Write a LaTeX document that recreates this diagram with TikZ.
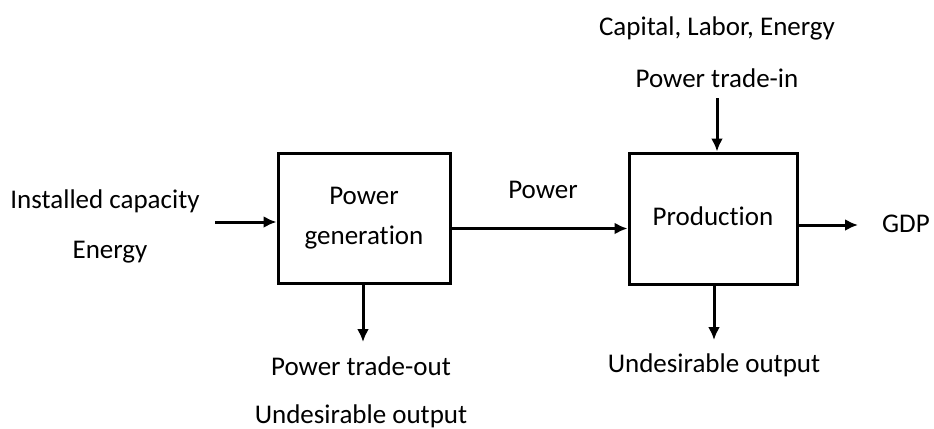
\documentclass[tikz,border=0pt]{standalone}
\usepackage{fontspec}
\setmainfont{Carlito}[Ligatures=NoCommon]
\usetikzlibrary{arrows.meta}
\begin{document}
\begin{tikzpicture}[x=0.5pt,y=-0.5pt,line width=1.5pt,
        >={Latex[length=6.5pt,width=6pt]},
        font=\fontsize{13.5pt}{20pt}\selectfont,
        block/.style={draw,align=center,inner sep=0pt},
        lbl/.style={anchor=base,inner sep=0pt}]
    \useasboundingbox (0,0) rectangle (934,429);
    % the two boxes
    \node[block,minimum width=86pt,minimum height=65pt] (gen) at (364,218) {Power\\generation};
    \node[block,minimum width=84pt,minimum height=65.5pt] (prod) at (713,218.5) {\raisebox{2pt}{Production}};
    % labels
    \node[lbl] (cap) at (105,208) {Installed capacity};
    \node[lbl] (ener) at (110,258) {Energy};
    \node[lbl] (pow) at (543,198) {Power};
    \node[lbl] (gdp) at (906,232) {GDP};
    \node[lbl] (cle) at (717,35) {Capital, Labor, Energy};
    \node[lbl] (tradein) at (717,87) {Power trade-in};
    \node[lbl] (tradeout) at (361,375) {Power trade-out};
    \node[lbl] (undgen) at (361,423) {Undesirable output};
    \node[lbl] (undprod) at (714,372) {Undesirable output};
    % arrows
    \coordinate (inL) at (215,222);
    \draw[->] (inL) -- (inL -| gen.west);
    \draw[->] ([yshift=-5.25pt]gen.east) -- ([yshift=-5.25pt]gen.east -| prod.west);
    \coordinate (gdpL) at (858,225);
    \draw[->] (gdpL -| prod.east) -- (gdpL);
    \coordinate (topIn) at (717,98);
    \draw[->] (topIn) -- (topIn |- prod.north);
    \coordinate (outG) at (363,342);
    \draw[->] (outG |- gen.south) -- (outG);
    \coordinate (outP) at (714,340);
    \draw[->] (outP |- prod.south) -- (outP);
\end{tikzpicture}
\end{document}
